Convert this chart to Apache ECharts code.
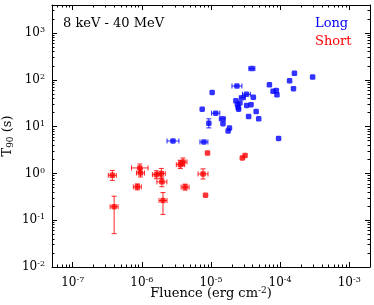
<!DOCTYPE html>
<html><head><meta charset="utf-8">
<script src="https://cdn.jsdelivr.net/npm/echarts@6/dist/echarts.min.js"></script>
<style>html,body{margin:0;padding:0;background:#fff}#c{width:374px;height:305px}</style>
</head><body><div id="c"></div>
<script>
// ---- data ----
const longFluence   = [3.9e-5,1.61e-4,2.95e-4,1.37e-4,7.0e-5,1.56e-4,2.37e-5,1.04e-5,7.9e-5,8.8e-5,9.0e-5,3.25e-5,2.84e-5,4.1e-5,2.29e-5,2.62e-5,2.41e-5,2.47e-5,2.51e-5,3.28e-5,3.79e-5,4.5e-5,3.5e-5,4.9e-5,9.5e-5,7.46e-6,1.17e-5,9.3e-6,1.46e-5,1.49e-5,1.85e-5,1.77e-5,2.82e-6,7.9e-6];
const longT90       = [174,138,115,95.7,78.3,64.7,73.8,53.7,56.9,59.2,48.0,49.1,41.6,42.4,35.7,32.1,29.8,25.7,23.6,28.4,29.5,21.0,16.4,14.7,5.58,23.6,19.4,11.8,14.7,11.6,9.3,8.1,4.94,4.70];
const longFluenceLo = [3.53e-5,null,null,null,null,null,2.01e-5,null,null,null,null,2.85e-5,2.57e-5,null,null,null,null,null,null,null,null,null,null,null,null,null,1.02e-5,null,1.32e-5,null,null,null,2.31e-6,6.92e-6];
const longFluenceHi = [4.31e-5,null,null,null,null,null,2.80e-5,null,null,null,null,3.71e-5,3.14e-5,null,null,null,null,null,null,null,null,null,null,null,null,null,1.34e-5,null,1.61e-5,null,null,null,3.44e-6,9.02e-6];
const longT90Lo     = [null,null,null,null,null,null,null,null,null,null,null,null,null,null,null,null,null,null,null,null,null,null,null,null,null,null,null,9.4,null,null,null,null,null,null];
const longT90Hi     = [null,null,null,null,null,null,null,null,null,null,null,null,null,null,null,null,null,null,null,null,null,null,null,null,null,null,null,14.7,null,null,null,null,null,null];

const shortFluence   = [3.74e-7,3.97e-7,9.33e-7,9.54e-7,8.6e-7,1.62e-6,1.91e-6,1.95e-6,2.02e-6,3.6e-6,3.93e-6,4.22e-6,7.67e-6,8.34e-6,8.9e-6,2.84e-5,3.11e-5];
const shortT90       = [0.91,0.194,1.31,1.02,0.516,0.94,1.0,0.66,0.264,1.54,1.76,0.51,0.976,0.342,2.73,2.14,2.43];
const shortFluenceLo = [3.27e-7,3.48e-7,7.08e-7,8.35e-7,7.53e-7,1.42e-6,1.67e-6,1.65e-6,1.77e-6,3.15e-6,3.44e-6,3.70e-6,6.5e-6,null,null,null,null];
const shortFluenceHi = [4.27e-7,4.53e-7,1.23e-6,1.09e-6,9.82e-7,1.85e-6,2.18e-6,2.30e-6,2.31e-6,4.11e-6,4.49e-6,4.82e-6,9.05e-6,null,null,null,null];
const shortT90Lo     = [0.71,0.0516,1.08,0.84,0.445,0.77,0.78,0.52,0.133,1.27,1.45,0.44,0.76,null,null,null,null];
const shortT90Hi     = [1.16,0.326,1.59,1.24,0.598,1.14,1.28,0.84,0.39,1.87,2.14,0.59,1.25,null,null,null,null];

const xTickExponents = [-7,-6,-5,-4,-3];
const yTickExponents = [-2,-1,0,1,2,3];
const minorMultipliers = [2,3,4,5,6,7,8,9];

// ---- chart ----
const FONT = 'DejaVu Serif';
const xMin = Math.pow(10,-7.3), xMax = Math.pow(10,-2.7);
const yMin = 0.01, yMax = Math.pow(10,3.6);

const xMajor = xTickExponents.map(e => Math.pow(10,e));
const yMajor = yTickExponents.map(e => Math.pow(10,e));
function minors(exps, lo, hi){
  const out=[];
  const all=[exps[0]-1].concat(exps);
  all.forEach(e=>minorMultipliers.forEach(m=>{const v=m*Math.pow(10,e); if(v>lo&&v<hi) out.push(v);}));
  return out;
}
const xMinor = minors(xTickExponents, xMin, xMax);
const yMinor = minors(yTickExponents, yMin, yMax);

const tickRich = {
  b:{fontFamily:FONT,fontSize:12,color:'#000',lineHeight:14},
  s:{fontFamily:FONT,fontSize:8,color:'#000',verticalAlign:'top',lineHeight:8}
};
const nameRich = {
  b:{fontFamily:FONT,fontSize:13,color:'#000',lineHeight:15},
  s:{fontFamily:FONT,fontSize:9,color:'#000',verticalAlign:'top',lineHeight:9},
  d:{fontFamily:FONT,fontSize:9,color:'#000',verticalAlign:'bottom',lineHeight:9}
};
function pow10Label(v){ const e=Math.round(Math.log10(v)); return '{b|10}{s|'+e+'}'; }

function mkAxis(dir, pos, ticks, len, withLabel, withLine, extra){
  const isX = dir==='x';
  const ax = {
    type:'log', logBase:10,
    position:pos,
    min: isX? xMin : yMin, max: isX? xMax : yMax,
    axisLine:{show:withLine, onZero:false, lineStyle:{color:'#000',width:1}},
    axisTick:{show:true, inside:true, length:len, customValues:ticks, lineStyle:{color:'#000',width:1}},
    axisLabel:{show:withLabel},
    splitLine:{show:false}, minorTick:{show:false}, minorSplitLine:{show:false}
  };
  if (withLabel){
    ax.axisLabel = {show:true, customValues:ticks, formatter:pow10Label, rich:tickRich, margin: isX?9:7};
  }
  return Object.assign(ax, extra||{});
}

const xAxes = [
  mkAxis('x','bottom',xMajor,5,true,true,{
    name:'{b|Fluence (erg cm}{s|-2}{b|)}', nameLocation:'middle', nameGap:19, nameMoveOverlap:false,
    nameTextStyle:{rich:nameRich}
  }),
  mkAxis('x','bottom',xMinor,2.5,false,false),
  mkAxis('x','top',xMajor,5,false,true),
  mkAxis('x','top',xMinor,2.5,false,false)
];
const yAxes = [
  mkAxis('y','left',yMajor,5,true,true,{
    name:'{b|T}{d|90}{b| (s)}', nameLocation:'middle', nameGap:37, nameMoveOverlap:false,
    nameTextStyle:{rich:nameRich}
  }),
  mkAxis('y','left',yMinor,2.5,false,false),
  mkAxis('y','right',yMajor,5,false,true),
  mkAxis('y','right',yMinor,2.5,false,false)
];

function errData(fx, fy, xlo, xhi, ylo, yhi){
  return fx.map((x,i)=>[x, fy[i],
    xlo[i]==null?x:xlo[i], xhi[i]==null?x:xhi[i],
    ylo[i]==null?fy[i]:ylo[i], yhi[i]==null?fy[i]:yhi[i]]);
}
function errRender(color){
  return function(params, api){
    const x=api.value(0), y=api.value(1), xl=api.value(2), xh=api.value(3), yl=api.value(4), yh=api.value(5);
    const style={stroke:color,lineWidth:1,opacity:0.85};
    const cap=2.5;
    const ch=[];
    if (xl!==x || xh!==x){
      const a=api.coord([xl,y]), b=api.coord([xh,y]);
      ch.push({type:'line',shape:{x1:a[0],y1:a[1],x2:b[0],y2:b[1]},style});
      ch.push({type:'line',shape:{x1:a[0],y1:a[1]-cap,x2:a[0],y2:a[1]+cap},style});
      ch.push({type:'line',shape:{x1:b[0],y1:b[1]-cap,x2:b[0],y2:b[1]+cap},style});
    }
    if (yl!==y || yh!==y){
      const a=api.coord([x,yl]), b=api.coord([x,yh]);
      ch.push({type:'line',shape:{x1:a[0],y1:a[1],x2:b[0],y2:b[1]},style});
      ch.push({type:'line',shape:{x1:a[0]-cap,y1:a[1],x2:a[0]+cap,y2:a[1]},style});
      ch.push({type:'line',shape:{x1:b[0]-cap,y1:b[1],x2:b[0]+cap,y2:b[1]},style});
    }
    return {type:'group',children:ch};
  };
}

const BLUE='#0000ff', RED='#ff0000';
const chart = echarts.init(document.getElementById('c'), null, {renderer:'canvas'});
chart.setOption({
  animation:false,
  backgroundColor:'#fff',
  grid:{left:52,right:4,top:5,bottom:38,containLabel:false,outerBoundsMode:'none'},
  title:{text:'8 keV - 40 MeV', left:63, top:17, padding:0,
    textStyle:{fontFamily:FONT,fontSize:13,fontWeight:'normal',color:'#000'}},
  legend:{
    left:310, top:16, padding:0, orient:'vertical', itemGap:4, itemWidth:0, itemHeight:15,
    icon:'none', selectedMode:false,
    textStyle:{fontFamily:FONT,fontSize:13},
    data:[{name:'Long',textStyle:{color:BLUE}},{name:'Short',textStyle:{color:RED}}]
  },
  xAxis:xAxes,
  yAxis:yAxes,
  series:[
    {type:'custom', name:'LongErr', xAxisIndex:0, yAxisIndex:0, renderItem:errRender(BLUE),
      encode:{x:0,y:1}, data:errData(longFluence,longT90,longFluenceLo,longFluenceHi,longT90Lo,longT90Hi), z:2},
    {type:'custom', name:'ShortErr', xAxisIndex:0, yAxisIndex:0, renderItem:errRender(RED),
      encode:{x:0,y:1}, data:errData(shortFluence,shortT90,shortFluenceLo,shortFluenceHi,shortT90Lo,shortT90Hi), z:2},
    {type:'scatter', name:'Long', xAxisIndex:0, yAxisIndex:0, symbol:'roundRect', symbolSize:5.5,
      itemStyle:{color:BLUE}, data:longFluence.map((x,i)=>[x,longT90[i]]), z:3},
    {type:'scatter', name:'Short', xAxisIndex:0, yAxisIndex:0, symbol:'roundRect', symbolSize:5.5,
      itemStyle:{color:RED}, data:shortFluence.map((x,i)=>[x,shortT90[i]]), z:3}
  ]
});
</script>
</body></html>
